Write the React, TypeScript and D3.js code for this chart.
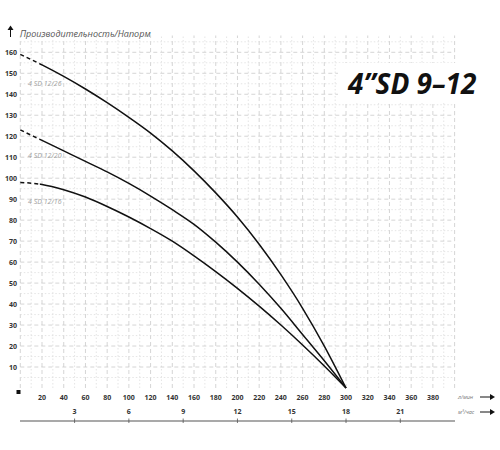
import React from "react";
import * as d3 from "d3";

const flowTicks = [20, 40, 60, 80, 100, 120, 140, 160, 180, 200, 220, 240, 260, 280, 300, 320, 340, 360, 380];
const headTicks = [10, 20, 30, 40, 50, 60, 70, 80, 90, 100, 110, 120, 130, 140, 150, 160];
const m3Ticks = [3, 6, 9, 12, 15, 18, 21];

const flowQ = [0, 20, 40, 60, 80, 100, 120, 140, 160, 180, 200, 220, 240, 260, 280, 300];
const head26 = [159, 154, 148.5, 142.5, 136, 129, 121.5, 113, 103.5, 93, 81.5, 68.5, 54, 38, 20, 0];
const head20 = [123, 118, 113, 108, 103, 97.5, 91.5, 85, 78, 69.5, 60, 49.5, 38, 25.5, 13, 0];
const head16 = [98, 97, 94.5, 91, 86.5, 81.5, 76, 70, 63, 55.5, 47.5, 39, 30, 20.5, 10.5, 0];

const seriesNames = ["4 SD 12/26", "4 SD 12/20", "4 SD 12/16"];
const labelHeads = [145, 111, 89];
const dashEndQ = 18;

const title = "4\u201DSD 9\u201312";
const yTitle = "Производительность/Напорм";
const unitL = "л/мин";
const unitM = "м³/час";

export default function App() {
  const x = d3.scaleLinear().domain([0, 400]).range([20.3, 454.6]);
  const y = d3.scaleLinear().domain([0, 160]).range([388, 52.3]);
  const line = d3
    .line<[number, number]>()
    .x((d) => x(d[0]))
    .y((d) => y(d[1]))
    .curve(d3.curveMonotoneX);

  const series = [head26, head20, head16].map((h) => flowQ.map((q, i) => [q, h[i]] as [number, number]));

  const vLines = d3.range(0, 401, 10);
  const hLines = d3.range(5, 170, 5);
  const fontB = "'Open Sans', 'DejaVu Sans', sans-serif";

  return (
    <svg width={500} height={450} style={{ position: "absolute", left: 0, top: 0, background: "#fff" }}>
      <rect x={0} y={0} width={500} height={450} fill="#fff" />
      {vLines.map((v) => (
        <line
          key={"v" + v}
          x1={x(v)}
          x2={x(v)}
          y1={y(0)}
          y2={y(168)}
          stroke={v % 20 === 0 ? "#cacaca" : "#dedede"}
          strokeWidth={0.8}
          strokeDasharray={v % 20 === 0 ? "4,3" : "1.5,2"}
        />
      ))}
      {hLines.map((h) => (
        <line
          key={"h" + h}
          x1={x(0)}
          x2={x(400)}
          y1={y(h)}
          y2={y(h)}
          stroke={h % 10 === 0 ? "#cacaca" : "#dedede"}
          strokeWidth={0.8}
          strokeDasharray={h % 10 === 0 ? "4,3" : "1.5,2"}
        />
      ))}
      <rect x={338} y={63} width={125} height={40} fill="#fff" />
      <text x={348} y={94} fontFamily={fontB} fontWeight={700} fontStyle="italic" fontSize={28} fill="#111">
        {title}
      </text>

      {series.map((s, i) => (
        <g key={i}>
          <clipPath id={"cd" + i}>
            <rect x={0} y={0} width={x(dashEndQ)} height={450} />
          </clipPath>
          <clipPath id={"cs" + i}>
            <rect x={x(dashEndQ)} y={0} width={500} height={450} />
          </clipPath>
          <path d={line(s) || ""} fill="none" stroke="#111" strokeWidth={1.5} strokeDasharray="4,3" clipPath={`url(#cd${i})`} />
          <path d={line(s) || ""} fill="none" stroke="#111" strokeWidth={1.5} clipPath={`url(#cs${i})`} />
        </g>
      ))}
      {seriesNames.map((n, i) => (
        <text key={n} x={28} y={y(labelHeads[i]) + 2.5} fontFamily={fontB} fontStyle="italic" fontSize={7} fill="#a0a0a0">
          {n}
        </text>
      ))}

      {headTicks.map((t) => (
        <text key={"yt" + t} x={17} y={y(t) + 2.5} textAnchor="end" fontFamily={fontB} fontWeight={700} fontSize={7} fill="#333">
          {t}
        </text>
      ))}
      <rect x={16.5} y={390} width={4} height={4} fill="#111" />
      {flowTicks.map((t) => (
        <text key={"xt" + t} x={x(t)} y={399.5} textAnchor="middle" fontFamily={fontB} fontWeight={700} fontSize={7} fill="#333">
          {t}
        </text>
      ))}

      <line x1={10.5} x2={10.5} y1={37} y2={28} stroke="#111" strokeWidth={1} />
      <path d="M7.5,30 L10.5,25.5 L13.5,30 Z" fill="#111" />
      <text x={20} y={37} fontFamily={fontB} fontStyle="italic" fontSize={9} fill="#555">
        {yTitle}
      </text>

      <line x1={20} x2={455} y1={421} y2={421} stroke="#555" strokeWidth={1.2} />
      {m3Ticks.map((t) => (
        <g key={"m" + t}>
          <line x1={x((t * 1000) / 60)} x2={x((t * 1000) / 60)} y1={418.5} y2={423} stroke="#555" strokeWidth={0.8} />
          <text x={x((t * 1000) / 60)} y={414} textAnchor="middle" fontFamily={fontB} fontWeight={700} fontSize={7} fill="#333">
            {t}
          </text>
        </g>
      ))}

      <text x={458} y={399} fontFamily={fontB} fontStyle="italic" fontSize={5.5} fill="#777">
        {unitL}
      </text>
      <text x={458} y={414} fontFamily={fontB} fontStyle="italic" fontSize={5.5} fill="#777">
        {unitM}
      </text>
      {[397, 412].map((yy) => (
        <g key={"a" + yy}>
          <line x1={480} x2={492} y1={yy} y2={yy} stroke="#111" strokeWidth={1} />
          <path d={`M490,${yy - 3} L495,${yy} L490,${yy + 3} Z`} fill="#111" />
        </g>
      ))}
    </svg>
  );
}
